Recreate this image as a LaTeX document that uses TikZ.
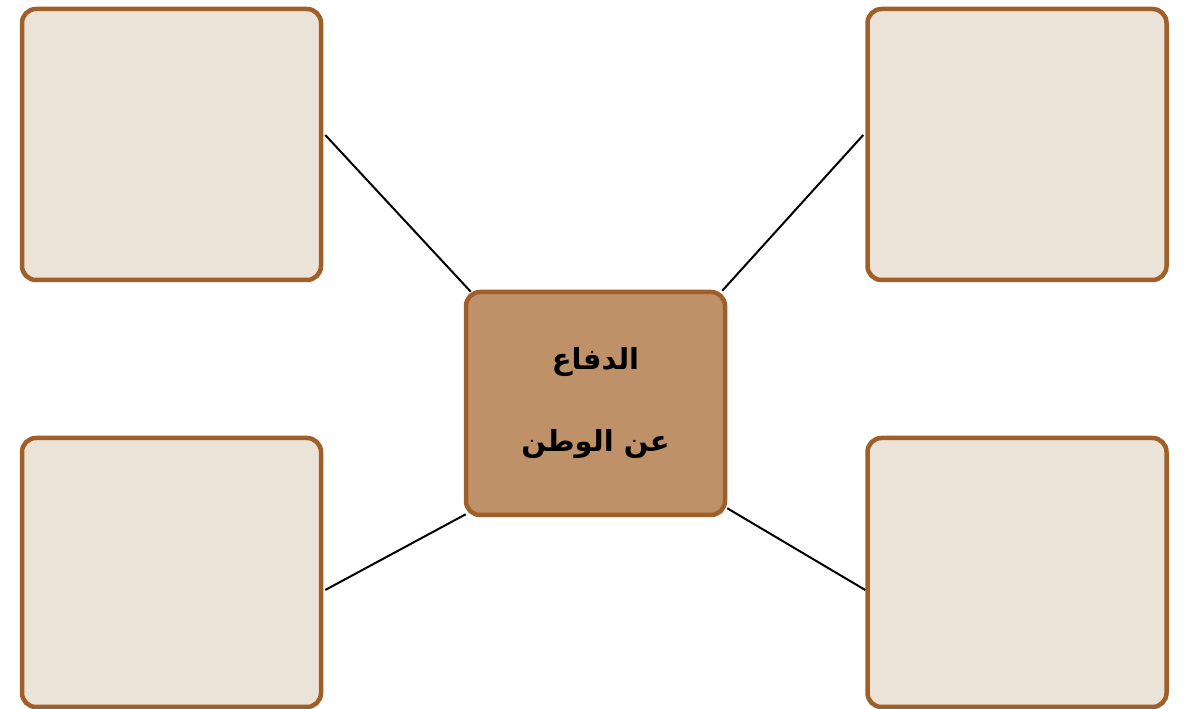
\documentclass[tikz,border=0pt]{standalone}
\usepackage{fontspec}
\newfontfamily\arabicfont[Script=Arabic]{DejaVu Sans}
\TeXXeTstate=1
\definecolor{brd}{RGB}{160,94,40}
\definecolor{lightfill}{RGB}{235,226,216}
\definecolor{midfill}{RGB}{191,145,105}
\tikzset{
  outerbox/.style={draw=brd, fill=lightfill, line width=4.5pt, rounded corners=14pt, inner sep=0pt, minimum width=299pt, minimum height=271pt},
  centerbox/.style={draw=brd, fill=midfill, line width=4.5pt, rounded corners=14pt, inner sep=0pt, minimum width=259pt, minimum height=223pt, align=center, font=\arabicfont\bfseries\fontsize{29}{82}\selectfont},
  link/.style={draw=black, line width=2pt}
}
\begin{document}
\begin{tikzpicture}[x=1pt,y=1pt]
\useasboundingbox (0,0) rectangle (1188,709);
\node[outerbox] (tl) at (171.5,564.5) {};
\node[outerbox] (tr) at (1017,564.5) {};
\node[outerbox, minimum height=269pt] (bl) at (171.5,136.5) {};
\node[outerbox, minimum height=269pt] (br) at (1017,136.5) {};
\node[centerbox] (c) at (595.5,305.5) {\beginR الدفاع\endR\\\beginR عن الوطن\endR};
\draw[link] ([shift={(2pt,9.5pt)}]tl.east) -- ([shift={(7pt,-2pt)}]c.north west);
\draw[link] ([shift={(-2pt,9.5pt)}]tr.west) -- ([shift={(-5pt,-1pt)}]c.north east);
\draw[link] ([shift={(2pt,-17.5pt)}]bl.east) -- ([shift={(2pt,3pt)}]c.south west);
\draw[link] ([yshift=-17.5pt]br.west) -- ([shift={(0pt,9pt)}]c.south east);
\end{tikzpicture}
\end{document}
